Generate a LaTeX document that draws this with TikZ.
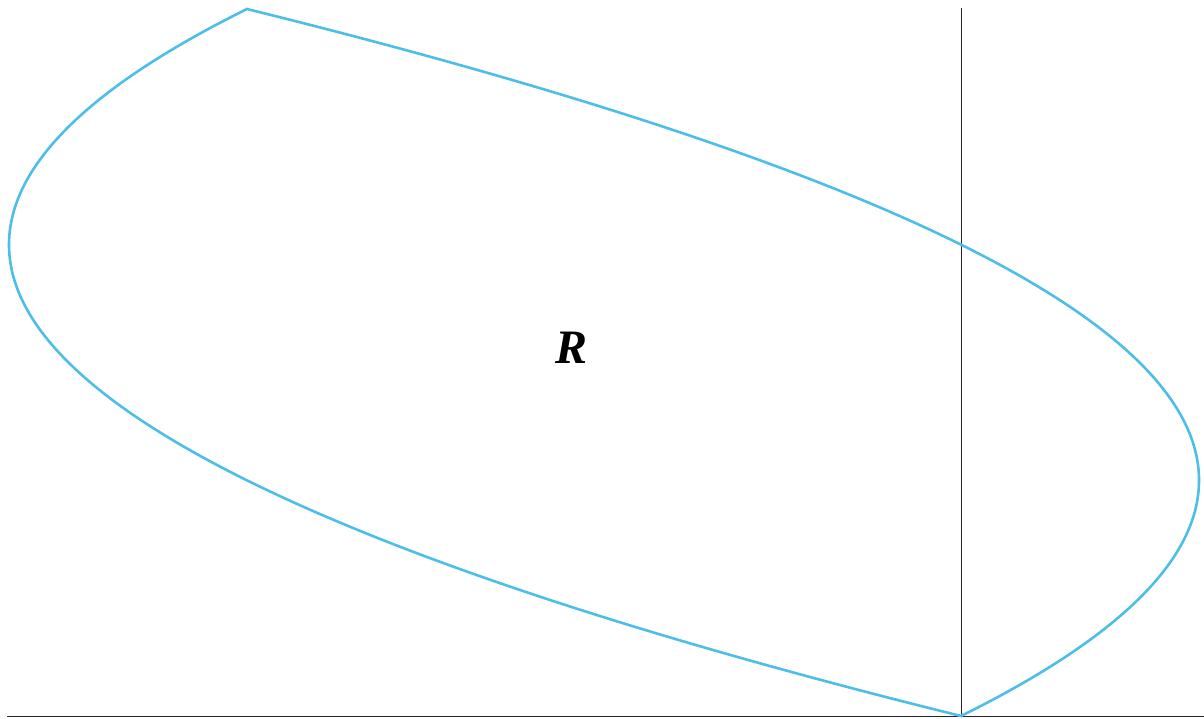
\documentclass[tikz,border=0pt]{standalone}
\usepackage{fontspec}
\newfontfamily\labelfont{Liberation Serif}
\definecolor{curveblue}{RGB}{76,190,232}
\begin{document}
\begin{tikzpicture}[x=0.5pt,y=-0.5pt,
  axis/.style={draw=black!85,line width=0.5pt},
  boundary/.style={draw=curveblue,line width=1.3pt,line join=miter},
  lab/.style={font=\labelfont\bfseries\itshape\fontsize{24}{28}\selectfont}]
\useasboundingbox (0,0) rectangle (1204,718);
\coordinate (O) at (961,716.5);
\coordinate (xs) at (7,716.5);
\coordinate (xe) at (1204,716.5);
\coordinate (ye) at (961,8);
\draw[axis] (xs) -- (xe);
\draw[axis] (O) -- (ye);
\draw[boundary] plot[domain=0:1,samples=200,variable=\t] ({961+714*(2*\t-3*\t*\t)},{716-707*\t})
  -- plot[domain=1:0,samples=200,variable=\t] ({961+714*(3*\t*\t-4*\t)},{716-707*\t}) -- cycle;
\node[lab] (R) at (571,348) {R};
\end{tikzpicture}
\end{document}
